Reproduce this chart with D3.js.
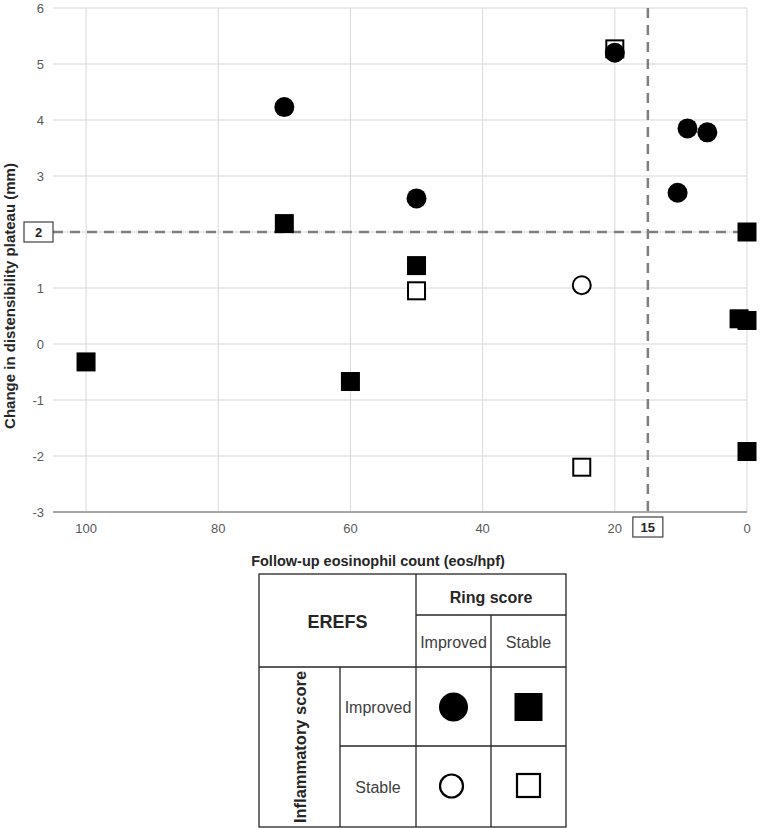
<!DOCTYPE html>
<html>
<head>
<meta charset="utf-8">
<script src="https://cdn.jsdelivr.net/npm/d3@7"></script>
<style>
  body { margin: 0; background: #fff; }
  svg { display: block; font-family: "Liberation Sans", Arial, sans-serif; }
</style>
</head>
<body>
<svg id="chart" width="760" height="829"></svg>
<script>
// ---- data ----
const xTicks = [100, 80, 60, 40, 20, 0];
const yTicks = [6, 5, 4, 3, 1, 0, -1, -2, -3];
const eosThreshold = 15;
const changeThreshold = 2;

// group codes: II = inflammatory improved / ring improved (filled circle)
//              IS = inflammatory improved / ring stable (filled square)
//              SI = inflammatory stable / ring improved (open circle)
//              SS = inflammatory stable / ring stable (open square)
const eos    = [20,   50,   25,   25,   70,   50,  20,  9,    6,    10.5, 100,  70,   50,  60,    0,   1.2,  0,    0];
const change = [5.27, 0.95, -2.2, 1.05, 4.23, 2.6, 5.2, 3.85, 3.78, 2.7,  -0.32, 2.15, 1.4, -0.67, 2.0, 0.45, 0.42, -1.92];
const group  = ["SS", "SS", "SS", "SI", "II", "II", "II", "II", "II", "II", "IS", "IS", "IS", "IS", "IS", "IS", "IS", "IS"];

const legendRowLabels = ["Improved", "Stable"];
const legendColLabels = ["Improved", "Stable"];

(function () {
// ---- layout ----
const svg = d3.select("#chart");
const pLeft = 53, pRight = 747, pTop = 8, pBottom = 512;

const x = d3.scaleLinear().domain([105, 0]).range([pLeft, pRight]);
const y = d3.scaleLinear().domain([6, -3]).range([pTop, pBottom]);

const gridColor = "#d9d9d9";
const tickColor = "#595959";

// gridlines
svg.append("g").selectAll("line").data(xTicks).join("line")
  .attr("x1", d => x(d)).attr("x2", d => x(d))
  .attr("y1", pTop).attr("y2", pBottom)
  .attr("stroke", gridColor).attr("stroke-width", 1);
svg.append("g").selectAll("line").data([6,5,4,3,2,1,0,-1,-2]).join("line")
  .attr("x1", pLeft).attr("x2", pRight)
  .attr("y1", d => y(d)).attr("y2", d => y(d))
  .attr("stroke", gridColor).attr("stroke-width", 1);

// x axis line
svg.append("line").attr("x1", pLeft).attr("x2", pRight)
  .attr("y1", y(-3)).attr("y2", y(-3))
  .attr("stroke", "#a6a6a6").attr("stroke-width", 2);

// y tick labels
svg.append("g").selectAll("text").data(yTicks).join("text")
  .attr("x", 44).attr("y", d => y(d) + 4.5)
  .attr("text-anchor", "end").attr("font-size", 13).attr("fill", tickColor)
  .text(d => d);

// x tick labels
svg.append("g").selectAll("text").data(xTicks).join("text")
  .attr("x", d => x(d)).attr("y", 533)
  .attr("text-anchor", "middle").attr("font-size", 13).attr("fill", tickColor)
  .text(d => d);

// threshold lines
svg.append("line").attr("x1", pLeft).attr("x2", pRight)
  .attr("y1", y(changeThreshold)).attr("y2", y(changeThreshold))
  .attr("stroke", "#7f7f7f").attr("stroke-width", 2.5).attr("stroke-dasharray", "10,7");
svg.append("line").attr("x1", x(eosThreshold)).attr("x2", x(eosThreshold))
  .attr("y1", pTop).attr("y2", pBottom)
  .attr("stroke", "#7f7f7f").attr("stroke-width", 2.5).attr("stroke-dasharray", "10,7");

// boxed threshold labels
svg.append("rect").attr("x", 24).attr("y", y(changeThreshold) - 10).attr("width", 29).attr("height", 20)
  .attr("fill", "#fff").attr("stroke", "#404040").attr("stroke-width", 1.2);
svg.append("text").attr("x", 38.5).attr("y", y(changeThreshold) + 4.5)
  .attr("text-anchor", "middle").attr("font-size", 13).attr("font-weight", "bold").attr("fill", "#262626")
  .text(changeThreshold);
svg.append("rect").attr("x", x(eosThreshold) - 15).attr("y", 517).attr("width", 30).attr("height", 20)
  .attr("fill", "#fff").attr("stroke", "#404040").attr("stroke-width", 1.2);
svg.append("text").attr("x", x(eosThreshold)).attr("y", 531.5)
  .attr("text-anchor", "middle").attr("font-size", 13).attr("font-weight", "bold").attr("fill", "#262626")
  .text(eosThreshold);

// axis titles
svg.append("text").attr("x", 378).attr("y", 566)
  .attr("text-anchor", "middle").attr("font-size", 14.5).attr("font-weight", "bold").attr("fill", "#262626")
  .text("Follow-up eosinophil count (eos/hpf)");
svg.append("text").attr("transform", "translate(15,296) rotate(-90)")
  .attr("text-anchor", "middle").attr("font-size", 15).attr("font-weight", "bold").attr("fill", "#262626")
  .text("Change in distensibility plateau (mm)");

// markers
function drawMarker(sel, g, cx, cy) {
  const r = 10, s = 19;
  if (g === "II") {
    sel.append("circle").attr("cx", cx).attr("cy", cy).attr("r", r).attr("fill", "#000");
  } else if (g === "SI") {
    sel.append("circle").attr("cx", cx).attr("cy", cy).attr("r", r - 1).attr("fill", "#fff")
      .attr("stroke", "#000").attr("stroke-width", 2);
  } else if (g === "IS") {
    sel.append("rect").attr("x", cx - s / 2).attr("y", cy - s / 2).attr("width", s).attr("height", s).attr("fill", "#000");
  } else {
    sel.append("rect").attr("x", cx - s / 2 + 1).attr("y", cy - s / 2 + 1).attr("width", s - 2).attr("height", s - 2)
      .attr("fill", "#fff").attr("stroke", "#000").attr("stroke-width", 2);
  }
}
const pts = eos.map((e, i) => ({ e, c: change[i], g: group[i] }));
const order = { SS: 0, SI: 1, IS: 2, II: 3 };
const mg = svg.append("g");
pts.slice().sort((a, b) => order[a.g] - order[b.g]).forEach(p => drawMarker(mg, p.g, x(p.e), y(p.c)));

// ---- legend table ----
const L = { x0: 259, x1: 340, x2: 416, x3: 491, x4: 566, y0: 574, y1: 615, y2: 667, y3: 746, y4: 827 };
const lg = svg.append("g").attr("stroke", "#262626").attr("stroke-width", 1.3);
lg.append("rect").attr("x", L.x0).attr("y", L.y0).attr("width", L.x4 - L.x0).attr("height", L.y4 - L.y0).attr("fill", "none");
lg.append("line").attr("x1", L.x2).attr("x2", L.x2).attr("y1", L.y0).attr("y2", L.y4);
lg.append("line").attr("x1", L.x3).attr("x2", L.x3).attr("y1", L.y1).attr("y2", L.y4);
lg.append("line").attr("x1", L.x1).attr("x2", L.x1).attr("y1", L.y2).attr("y2", L.y4);
lg.append("line").attr("x1", L.x2).attr("x2", L.x4).attr("y1", L.y1).attr("y2", L.y1);
lg.append("line").attr("x1", L.x0).attr("x2", L.x4).attr("y1", L.y2).attr("y2", L.y2);
lg.append("line").attr("x1", L.x1).attr("x2", L.x4).attr("y1", L.y3).attr("y2", L.y3);

const tcol = "#262626";
svg.append("text").attr("x", (L.x0 + L.x2) / 2).attr("y", 628).attr("text-anchor", "middle")
  .attr("font-size", 18).attr("font-weight", "bold").attr("fill", tcol).text("EREFS");
svg.append("text").attr("x", (L.x2 + L.x4) / 2).attr("y", 603).attr("text-anchor", "middle")
  .attr("font-size", 16).attr("font-weight", "bold").attr("fill", tcol).text("Ring score");
svg.append("g").selectAll("text").data(legendColLabels).join("text")
  .attr("x", (d, i) => i === 0 ? (L.x2 + L.x3) / 2 : (L.x3 + L.x4) / 2).attr("y", 648)
  .attr("text-anchor", "middle").attr("font-size", 16).attr("fill", "#404040").text(d => d);
svg.append("g").selectAll("text").data(legendRowLabels).join("text")
  .attr("x", (L.x1 + L.x2) / 2).attr("y", (d, i) => i === 0 ? 713 : 793)
  .attr("text-anchor", "middle").attr("font-size", 16).attr("fill", "#404040").text(d => d);
svg.append("text").attr("transform", `translate(306,${(L.y2 + L.y4) / 2}) rotate(-90)`)
  .attr("text-anchor", "middle").attr("font-size", 16.5).attr("font-weight", "bold").attr("fill", tcol)
  .text("Inflammatory score");

// legend symbols
const lsym = svg.append("g");
lsym.append("circle").attr("cx", (L.x2 + L.x3) / 2).attr("cy", 707).attr("r", 14.5).attr("fill", "#000");
lsym.append("rect").attr("x", (L.x3 + L.x4) / 2 - 14).attr("y", 693).attr("width", 28).attr("height", 28).attr("fill", "#000");
lsym.append("circle").attr("cx", (L.x2 + L.x3) / 2 - 2).attr("cy", 786).attr("r", 11.5).attr("fill", "#fff")
  .attr("stroke", "#000").attr("stroke-width", 2.2);
lsym.append("rect").attr("x", (L.x3 + L.x4) / 2 - 11.5).attr("y", 774).attr("width", 23).attr("height", 23).attr("fill", "#fff")
  .attr("stroke", "#000").attr("stroke-width", 2.2);
})();
</script>
</body>
</html>
